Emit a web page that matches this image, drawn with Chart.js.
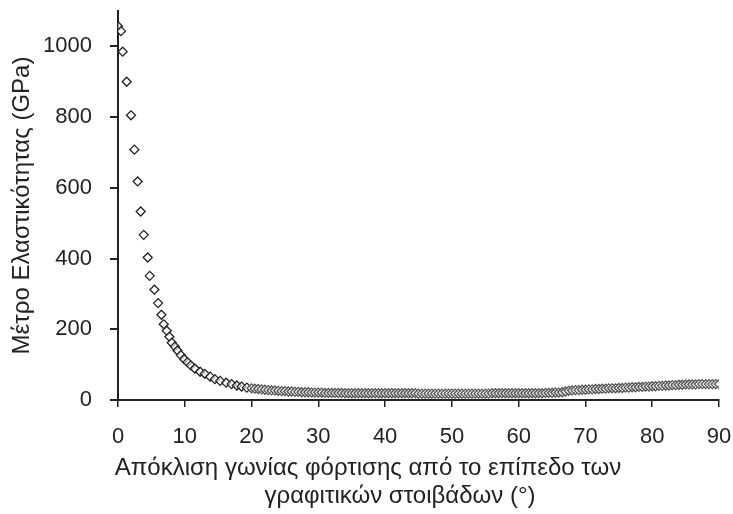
<!DOCTYPE html>
<html>
<head>
<meta charset="utf-8">
<script src="https://cdn.jsdelivr.net/npm/chart.js@4.4.1/dist/chart.umd.min.js"></script>
<style>
  html, body { margin: 0; padding: 0; background: #fff; }
  #wrap { width: 733px; height: 514px; }
</style>
</head>
<body>
<div id="wrap"><canvas id="chart" width="733" height="514"></canvas></div>
<script>
// titulos
const yTitle = 'Μέτρο Ελαστικότητας (GPa)';
const xTitleLines = ['Απόκλιση γωνίας φόρτισης από το επίπεδο των', 'γραφιτικών στοιβάδων (°)'];

// ticks
const xTicks = [0, 10, 20, 30, 40, 50, 60, 70, 80, 90];
const yTicks = [0, 200, 400, 600, 800, 1000];

// dados: angulo (graus) e modulo (GPa)
const anglesHead = [0, 0.45, 0.7, 1.3, 1.95, 2.45, 2.95, 3.4, 3.85, 4.45, 4.75, 5.45, 6.0, 6.5, 6.85,
  7.3, 7.7, 8.05, 8.5, 8.9, 9.4, 9.9, 10.4, 10.9, 11.5, 12.3, 13.0, 13.8, 14.5, 15.3, 16.2, 17.0,
  17.8, 18.5, 19.3];
const modulusHead = [1057, 1043, 985, 900, 805, 708, 618, 533, 467, 403, 351, 312, 274, 241, 214,
  196, 179, 162, 151, 140, 127, 116, 107, 98, 89, 80, 74, 66, 59, 54, 49, 45,
  41, 38, 35];

const anglesTail = [20, 20.5, 21, 21.5, 22, 22.5, 23, 23.5, 24, 24.5, 25, 25.5, 26, 26.5, 27, 27.5,
  28, 28.5, 29, 29.5, 30, 30.5, 31, 31.5, 32, 32.5, 33, 33.5, 34, 34.5, 35, 35.5, 36, 36.5, 37, 37.5,
  38, 38.5, 39, 39.5, 40, 40.5, 41, 41.5, 42, 42.5, 43, 43.5, 44, 44.5, 45, 45.5, 46, 46.5, 47, 47.5,
  48, 48.5, 49, 49.5, 50, 50.5, 51, 51.5, 52, 52.5, 53, 53.5, 54, 54.5, 55, 55.5, 56, 56.5, 57, 57.5,
  58, 58.5, 59, 59.5, 60, 60.5, 61, 61.5, 62, 62.5, 63, 63.5, 64, 64.5, 65, 65.5, 66, 66.5, 67, 67.5,
  68, 68.5, 69, 69.5, 70, 70.5, 71, 71.5, 72, 72.5, 73, 73.5, 74, 74.5, 75, 75.5, 76, 76.5, 77, 77.5,
  78, 78.5, 79, 79.5, 80, 80.5, 81, 81.5, 82, 82.5, 83, 83.5, 84, 84.5, 85, 85.5, 86, 86.5, 87, 87.5,
  88, 88.5, 89, 89.5, 90];
const modulusTail = [33, 32, 31, 30, 29, 28, 27, 27, 26, 25, 25, 24, 24, 23, 23, 22,
  22, 22, 21, 21, 21, 21, 20, 20, 20, 20, 20, 20, 19, 19, 19, 19, 19, 19, 19, 19,
  19, 19, 19, 19, 19, 19, 19, 19, 19, 19, 19, 19, 19, 19, 18, 18, 18, 18, 18, 18,
  18, 18, 18, 18, 18, 18, 18, 18, 18, 18, 18, 18, 18, 18, 18, 18, 19, 19, 19, 19,
  19, 19, 19, 19, 19, 19, 19, 19, 19, 19, 19, 19, 20, 20, 20, 21, 21, 22, 24, 26,
  27, 28, 28, 29, 29, 30, 30, 31, 31, 32, 32, 33, 33, 33, 34, 34, 35, 35, 36, 36,
  37, 37, 38, 38, 39, 39, 40, 40, 41, 41, 42, 42, 43, 43, 44, 44, 44, 44, 45, 45,
  45, 45, 45, 45, 45];

const angles = [...anglesHead, ...anglesTail];
const modulus = [...modulusHead, ...modulusTail];

const points = angles.map((a, i) => ({ x: a, y: modulus[i] }));

const fontFamily = '"Liberation Sans", Arial, sans-serif';
const inkColor = '#222';

// titulo do eixo x em duas linhas (desenhado a mao)
const xTitlePlugin = {
  id: 'xTitle',
  afterDraw(chart) {
    const ctx = chart.ctx;
    ctx.save();
    ctx.font = '24px ' + fontFamily;
    ctx.fillStyle = inkColor;
    ctx.textAlign = 'center';
    ctx.textBaseline = 'middle';
    ctx.fillText(xTitleLines[0], 368, 468);
    ctx.fillText(xTitleLines[1], 400, 496);
    ctx.restore();
  }
};

new Chart(document.getElementById('chart'), {
  type: 'scatter',
  data: {
    datasets: [{
      data: points,
      pointStyle: 'rectRot',
      pointRadius: 4.5,
      pointBorderWidth: 1.3,
      pointBorderColor: ctx => (ctx.raw && ctx.raw.x >= 20 ? '#555' : '#222'),
      pointBackgroundColor: 'rgba(255,255,255,0.6)'
    }]
  },
  options: {
    responsive: false,
    animation: false,
    layout: { padding: { top: 11, right: 14, left: 0, bottom: 0 } },
    plugins: {
      legend: { display: false },
      tooltip: { enabled: false }
    },
    scales: {
      x: {
        type: 'linear',
        min: 0,
        max: 90,
        afterBuildTicks: s => { s.ticks = xTicks.map(v => ({ value: v })); },
        afterFit: s => { s.height = 114; s.paddingLeft = 0; s.paddingRight = 0; },
        grid: { drawOnChartArea: false, drawTicks: true, tickLength: 7, color: inkColor, lineWidth: 1.5 },
        border: { display: true, color: inkColor, width: 2 },
        ticks: { color: inkColor, padding: 17, font: { family: fontFamily, size: 22 } }
      },
      y: {
        type: 'linear',
        min: 0,
        max: 1100,
        afterBuildTicks: s => { s.ticks = yTicks.map(v => ({ value: v })); },
        afterFit: s => { s.width = 118; s.paddingTop = 0; s.paddingBottom = 0; },
        grid: { drawOnChartArea: false, drawTicks: true, tickLength: 8, color: inkColor, lineWidth: 2 },
        border: { display: true, color: inkColor, width: 2 },
        ticks: {
          color: inkColor,
          padding: 18,
          font: { family: fontFamily, size: 22 },
          callback: v => String(v)
        },
        title: {
          display: true,
          text: yTitle,
          color: inkColor,
          padding: { top: 8, bottom: 0 },
          font: { family: fontFamily, size: 24 }
        }
      }
    }
  },
  plugins: [xTitlePlugin]
});
</script>
</body>
</html>
